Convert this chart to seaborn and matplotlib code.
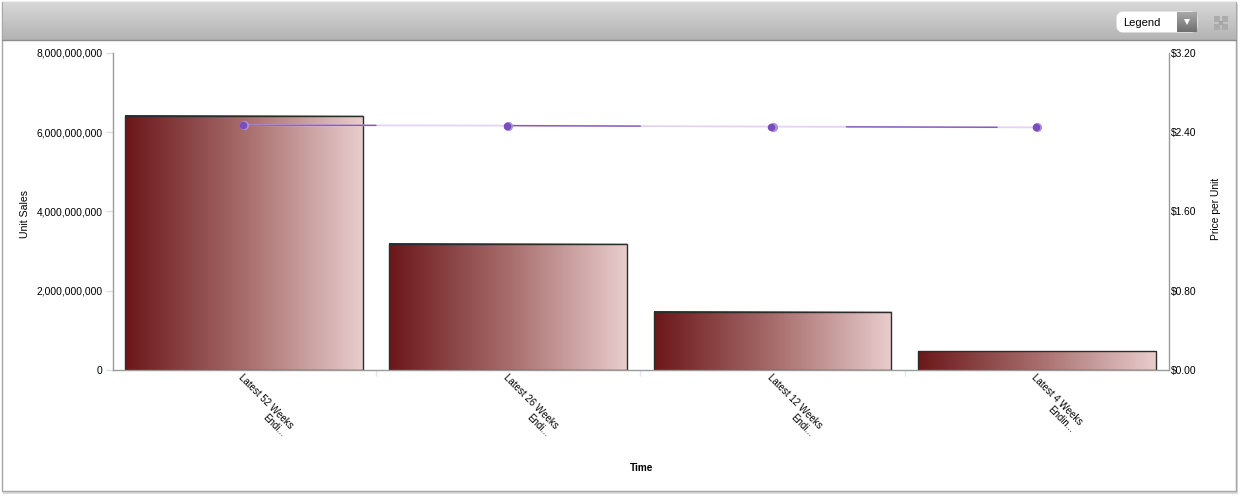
import numpy as np
import pandas as pd
import seaborn as sns
import matplotlib.pyplot as plt
from matplotlib.patches import FancyBboxPatch, Rectangle
from matplotlib.ticker import FuncFormatter
from matplotlib.transforms import ScaledTranslation

periods = ['Latest 52 Weeks\nEndi...', 'Latest 26 Weeks\nEndi...',
           'Latest 12 Weeks\nEndi...', 'Latest 4 Weeks\nEndin...']
unit_sales = [6420000000, 3190000000, 1470000000, 475000000]
price_per_unit = [2.472, 2.467, 2.457, 2.449]
sales_ticks = [0, 2000000000, 4000000000, 6000000000, 8000000000]
price_ticks = [0, 0.8, 1.6, 2.4, 3.2]

sns.set_theme(style='white')
plt.rcParams['font.family'] = ['Liberation Sans', 'DejaVu Sans']
plt.rcParams['font.size'] = 7.4

df = pd.DataFrame({'period': periods, 'sales': unit_sales, 'price': price_per_unit})

W, H = 1240, 497
fig = plt.figure(figsize=(W / 100, H / 100), dpi=100, facecolor='white')

# widget frame and header, in pixel coords
bg = fig.add_axes([0, 0, 1, 1], zorder=0)
bg.axis('off')
bg.add_patch(Rectangle((3, 4), 1235, 490, fc='#dcdcdc', ec='none', zorder=1))
bg.add_patch(Rectangle((2, 2), 1234, 489, fc='white', ec='#a6a6a6', lw=1, zorder=1))
header = np.linspace(0, 1, 64).reshape(-1, 1)
bg.imshow(header, extent=(2.5, 1235.5, 40, 2.5), cmap=sns.blend_palette(['#d8d8d8', '#b3b3b3'], as_cmap=True),
          aspect='auto', zorder=2)
bg.plot([2, 1236], [40, 40], color='#8c8c8c', lw=1, zorder=3)

# legend dropdown
bg.add_patch(FancyBboxPatch((1120, 15), 74, 14, boxstyle='round,pad=0,rounding_size=3',
                            fc='white', ec='white', lw=5, zorder=3))
bg.imshow(header, extent=(1177, 1197, 32, 12), cmap=sns.blend_palette(['#a8a8a8', '#6f6f6f'], as_cmap=True),
          aspect='auto', zorder=4)
bg.plot([1187], [21.5], marker='v', ms=5, color='white', mew=0, zorder=5)
bg.text(1123, 22.5, 'Legend', fontsize=8, color='black', va='center', ha='left', zorder=5)
for dx in (-4, 4):
    for dy in (-4, 4):
        bg.plot([1220.5 + dx], [22.5 + dy], marker='s', ms=4, color='#ababab', mew=0, zorder=3)
bg.plot([1220.5], [22.5], marker='s', ms=3, color='#a4a4a4', mew=0, zorder=3)
bg.set_xlim(0, W)
bg.set_ylim(H, 0)

# main chart: x 113-1169, y 53-370
ax = fig.add_axes([113 / W, 1 - 370 / H, 1056 / W, 317 / H], zorder=1)
ax.patch.set_alpha(0)
sns.barplot(data=df, x='period', y='sales', width=0.9, color='#a05050', edgecolor='none', ax=ax)

gradient = np.linspace(0, 1, 256).reshape(1, -1)
bar_cmap = sns.blend_palette(['#6c1719', '#a66c6b', '#e9cdcd'], as_cmap=True)
for bar in list(ax.patches):
    x0, x1 = bar.get_x(), bar.get_x() + bar.get_width()
    ax.imshow(gradient, extent=(x0, x1, 0, bar.get_height()), cmap=bar_cmap, aspect='auto', zorder=2)
    bar.set_facecolor('none')
    bar.set_edgecolor('#2c2c2c')
    bar.set_linewidth(1)
    bar.set_zorder(3)
ax.set_ylim(0, 8000000000)
ax.set_xlim(-0.495, 3.5)

ax.set_yticks(sales_ticks)
ax.yaxis.set_major_formatter(FuncFormatter(lambda v, _: f'{int(v):,}'))
ax.set_xticks(range(len(periods)))
ax.set_xticklabels(periods, rotation=-45, ha='left', va='top', rotation_mode='anchor', ma='right')
ax.set_xticks([0.5, 1.5, 2.5], minor=True)
ax.tick_params(axis='x', which='major', length=0, pad=1.5, labelsize=7.0, colors='black')
ax.tick_params(axis='x', which='minor', length=4, width=1, color='#e2e6ec', bottom=True)
ax.tick_params(axis='y', length=5, width=1, color='#d8dfe8', left=True, pad=2.5, labelsize=7.4, labelcolor='black')
ax.set_xlabel('Time', fontsize=7.2, fontweight='bold', color='black')
ax.xaxis.set_label_coords((642 - 113) / 1056, -(468 - 370) / 317, transform=ax.transAxes)
ax.xaxis.label.set_va('center')
ax.set_ylabel('Unit Sales', fontsize=7.6, color='black')
ax.yaxis.set_label_coords((30 - 113) / 1056, (370 - 214) / 317)
for side in ('top', 'right'):
    ax.spines[side].set_visible(False)
for side in ('left', 'bottom'):
    ax.spines[side].set_color('#9a9a9a')
    ax.spines[side].set_linewidth(1)
    ax.spines[side].set_zorder(4)

# price line on the second axis
ax2 = ax.twinx()
ax2.patch.set_alpha(0)
pos = np.arange(len(periods))
sns.lineplot(x=pos, y=price_per_unit, color='#e2d4f2', lw=1.3, ax=ax2, zorder=5)
dark_spans = [(0.0, 0.5), (1.0, 1.5), (2.28, 2.85)]
for a, b in dark_spans:
    xs = np.linspace(a, b, 2)
    ax2.plot(xs, np.interp(xs, pos, price_per_unit), color='#8658b8', lw=1.0, zorder=6)
# shaded dots: pale disc with a darker one nudged left
nudge = ax2.transData + ScaledTranslation(-1.2 / 100, 0, fig.dpi_scale_trans)
ax2.plot(pos, price_per_unit, ls='none', marker='o', ms=6.6, color='#ab90de', mew=0, zorder=7)
ax2.plot(pos, price_per_unit, ls='none', marker='o', ms=5.4, color='#7a4cbc', mew=0, zorder=8, transform=nudge)
ax2.set_ylim(0, 3.2)
ax2.set_yticks(price_ticks)
ax2.yaxis.set_major_formatter(FuncFormatter(lambda v, _: f'${v:.2f}'))
ax2.tick_params(axis='y', length=0, pad=1.5, labelsize=7.4, labelcolor='black')
ax2.set_ylabel('Price per Unit', fontsize=7.4, color='black')
ax2.yaxis.set_label_coords((1211 - 113) / 1056, (370 - 209) / 317)
ax2.grid(False)
for side in ('top', 'left', 'bottom'):
    ax2.spines[side].set_visible(False)
ax2.spines['right'].set_color('#9a9a9a')
ax2.spines['right'].set_linewidth(1)

fig.savefig('out.png', dpi=100)
